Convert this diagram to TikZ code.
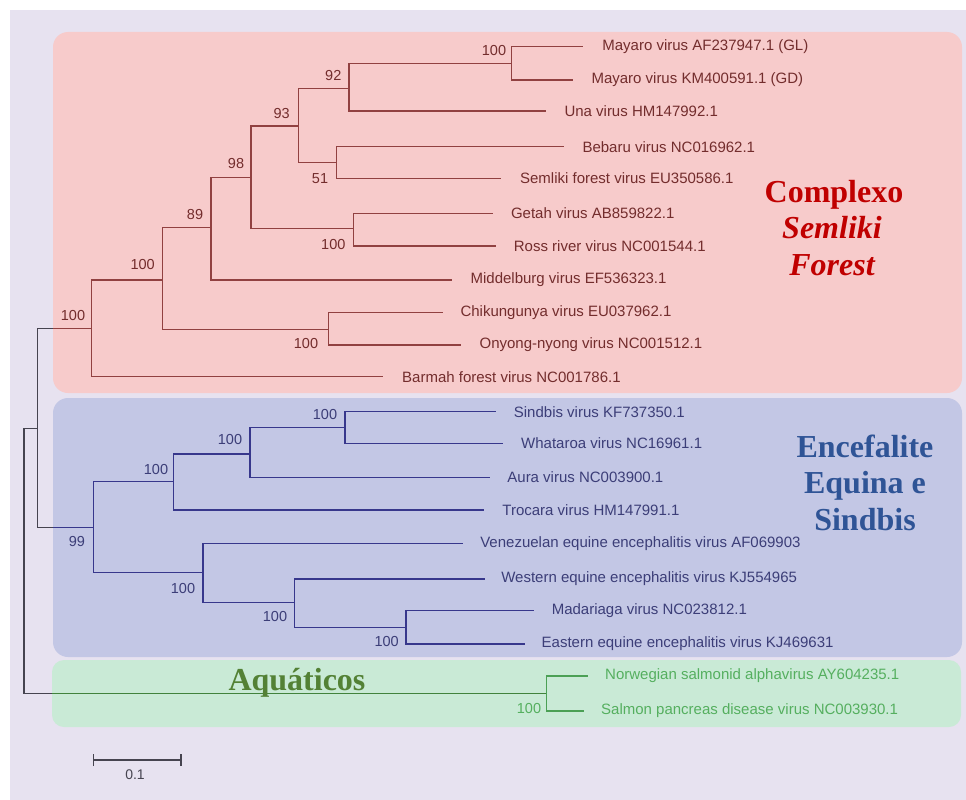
\documentclass[tikz,border=0pt]{standalone}
\usepackage{fontspec}
\setmainfont{Liberation Serif}
\setsansfont{Liberation Sans}
\definecolor{bgc}{RGB}{231,226,240}
\definecolor{redbox}{RGB}{247,203,203}
\definecolor{bluebox}{RGB}{195,199,229}
\definecolor{greenbox}{RGB}{201,234,214}
\definecolor{rootc}{RGB}{70,68,80}
\definecolor{redl}{RGB}{145,65,65}
\definecolor{redt}{RGB}{115,45,45}
\definecolor{bluel}{RGB}{55,55,140}
\definecolor{bluet}{RGB}{60,62,120}
\definecolor{greenl}{RGB}{75,160,85}
\definecolor{greenr}{RGB}{65,130,60}
\definecolor{greent}{RGB}{85,175,95}
\definecolor{bigred}{RGB}{192,0,0}
\definecolor{bigblue}{RGB}{47,84,150}
\definecolor{biggreen}{RGB}{83,129,53}
\begin{document}
\begin{tikzpicture}[x=1pt,y=-1pt,
  rl/.style={line width=1.3pt, draw=rootc},
  rb/.style={line width=1.3pt, draw=redl},
  bb/.style={line width=1.3pt, draw=bluel},
  gb/.style={line width=1.3pt, draw=greenl},
  gr/.style={line width=1.5pt, draw=greenr},
  tipfont/.style={anchor=west, inner sep=0pt, font=\sffamily\fontsize{15}{18}\selectfont},
  tipr/.style={tipfont, text=redt},
  tipb/.style={tipfont, text=bluet},
  tipg/.style={tipfont, text=greent},
  bsfont/.style={inner sep=0pt, font=\sffamily\fontsize{14.5}{17}\selectfont},
  bsr/.style={bsfont, text=redt},
  bsb/.style={bsfont, text=bluet},
  bsg/.style={bsfont, text=greent},
  big/.style={anchor=base, inner sep=0pt, font=\fontsize{32}{37}\selectfont\bfseries}
]
\useasboundingbox (0,0) rectangle (966,800);
\fill[bgc] (10,10) rectangle (966,800);
\fill[redbox, rounded corners=15pt] (53,32) rectangle (962,393);
\fill[bluebox, rounded corners=15pt] (53,398) rectangle (962,657);
\fill[greenbox, rounded corners=12pt] (52,660) rectangle (961,727);

% internal coordinates
\coordinate (r0) at (24,560);
\coordinate (n1) at (37.3,428.3);
\coordinate (rcut) at (53,328.3);
\coordinate (bcut) at (53,527.7);
\coordinate (gcut) at (52,693.3);
\coordinate (rR) at (91.7,328.3);
\coordinate (rA) at (162.3,280);
\coordinate (rB) at (328.3,329.3);
\coordinate (rC) at (211,227.7);
\coordinate (rD) at (251,177.3);
\coordinate (rE) at (353.3,228.3);
\coordinate (rF) at (298.3,126);
\coordinate (rG) at (336.7,162.3);
\coordinate (rH) at (349,88.3);
\coordinate (rI) at (511.5,63.3);
\coordinate (bR) at (93.3,527.7);
\coordinate (bA) at (173.3,481.7);
\coordinate (bB) at (250,454);
\coordinate (bC) at (345,427.3);
\coordinate (bD) at (203,572.7);
\coordinate (bE) at (294.3,602.3);
\coordinate (bF) at (406,627.3);
\coordinate (gA) at (546.2,693.3);

% tip coordinates
\coordinate (tMGL) at (583.4,46.7);
\coordinate (tMGD) at (572.6,80);
\coordinate (tUna) at (546.2,111);
\coordinate (tBeb) at (564.3,146.7);
\coordinate (tSem) at (501,178.3);
\coordinate (tGet) at (493,213.3);
\coordinate (tRos) at (495.7,246);
\coordinate (tMid) at (452.3,280);
\coordinate (tChi) at (442.6,312.3);
\coordinate (tOny) at (461.4,345);
\coordinate (tBar) at (383.3,376.7);
\coordinate (tSin) at (495.7,411.7);
\coordinate (tWha) at (502.9,443.3);
\coordinate (tAur) at (489.5,477.3);
\coordinate (tTro) at (483.8,510);
\coordinate (tVen) at (463.2,543.3);
\coordinate (tWes) at (484.8,579);
\coordinate (tMad) at (533.6,610.7);
\coordinate (tEas) at (524.5,644);
\coordinate (tNor) at (587.7,676);
\coordinate (tSal) at (584,711);

% root
\draw[rl] (r0) |- (n1);
\draw[rl] (r0) |- (gcut);
\draw[gr] (gcut) -- (gA);
\draw[rl] (n1) |- (rcut);
\draw[rb] (rcut) -- (rR);
\draw[rl] (n1) |- (bcut);
\draw[bb] (bcut) -- (bR);

% red clade
\draw[rb] (rR) |- (rA);
\draw[rb] (rR) |- (tBar);
\draw[rb] (rA) |- (rC);
\draw[rb] (rA) |- (rB);
\draw[rb] (rB) |- (tChi);
\draw[rb] (rB) |- (tOny);
\draw[rb] (rC) |- (rD);
\draw[rb] (rC) |- (tMid);
\draw[rb] (rD) |- (rF);
\draw[rb] (rD) |- (rE);
\draw[rb] (rE) |- (tGet);
\draw[rb] (rE) |- (tRos);
\draw[rb] (rF) |- (rH);
\draw[rb] (rF) |- (rG);
\draw[rb] (rG) |- (tBeb);
\draw[rb] (rG) |- (tSem);
\draw[rb] (rH) |- (rI);
\draw[rb] (rH) |- (tUna);
\draw[rb] (rI) |- (tMGL);
\draw[rb] (rI) |- (tMGD);

% blue clade
\draw[bb] (bR) |- (bA);
\draw[bb] (bR) |- (bD);
\draw[bb] (bA) |- (bB);
\draw[bb] (bA) |- (tTro);
\draw[bb] (bB) |- (bC);
\draw[bb] (bB) |- (tAur);
\draw[bb] (bC) |- (tSin);
\draw[bb] (bC) |- (tWha);
\draw[bb] (bD) |- (tVen);
\draw[bb] (bD) |- (bE);
\draw[bb] (bE) |- (tWes);
\draw[bb] (bE) |- (bF);
\draw[bb] (bF) |- (tMad);
\draw[bb] (bF) |- (tEas);

% green clade
\draw[gb] (gA) |- (tNor);
\draw[gb] (gA) |- (tSal);

% tip labels
\node[tipr] (lMGL) at (602.2,46.7) {Mayaro virus AF237947.1 (GL)};
\node[tipr] (lMGD) at (591.3,80) {Mayaro virus KM400591.1 (GD)};
\node[tipr] (lUna) at (564.3,111) {Una virus HM147992.1};
\node[tipr] (lBeb) at (582.3,146.7) {Bebaru virus NC016962.1};
\node[tipr] (lSem) at (519.9,178.3) {Semliki forest virus EU350586.1};
\node[tipr] (lGet) at (510.8,213.3) {Getah virus AB859822.1};
\node[tipr] (lRos) at (513.7,246) {Ross river virus NC001544.1};
\node[tipr] (lMid) at (470.4,280) {Middelburg virus EF536323.1};
\node[tipr] (lChi) at (460.3,312.3) {Chikungunya virus EU037962.1};
\node[tipr] (lOny) at (479.4,345) {Onyong-nyong virus NC001512.1};
\node[tipr] (lBar) at (402,376.7) {Barmah forest virus NC001786.1};
\node[tipb] (lSin) at (513.7,411.7) {Sindbis virus KF737350.1};
\node[tipb] (lWha) at (521,443.3) {Whataroa virus NC16961.1};
\node[tipb] (lAur) at (507.2,477.3) {Aura virus NC003900.1};
\node[tipb] (lTro) at (502.2,510) {Trocara virus HM147991.1};
\node[tipb] (lVen) at (480.1,543.3) {Venezuelan equine encephalitis virus AF069903};
\node[tipb] (lWes) at (501.1,579) {Western equine encephalitis virus KJ554965};
\node[tipb] (lMad) at (551.6,610.7) {Madariaga virus NC023812.1};
\node[tipb] (lEas) at (541.5,644) {Eastern equine encephalitis virus KJ469631};
\node[tipg] (lNor) at (605,676) {Norwegian salmonid alphavirus AY604235.1};
\node[tipg] (lSal) at (601,711) {Salmon pancreas disease virus NC003930.1};

% bootstrap values
\node[bsr] (sR) at (73,316) {100};
\node[bsr] (sA) at (142.7,265) {100};
\node[bsr] (sB) at (306,343.3) {100};
\node[bsr] (sC) at (195,215) {89};
\node[bsr] (sD) at (236,164) {98};
\node[bsr] (sE) at (333.3,245) {100};
\node[bsr] (sF) at (281.7,113.3) {93};
\node[bsr] (sG) at (320,178.3) {51};
\node[bsr] (sH) at (333.3,76) {92};
\node[bsr] (sI) at (494,51) {100};
\node[bsb] (tbR) at (77,542) {99};
\node[bsb] (tbA) at (156,470) {100};
\node[bsb] (tbB) at (230,440) {100};
\node[bsb] (tbC) at (325,415) {100};
\node[bsb] (tbD) at (183,589) {100};
\node[bsb] (tbE) at (275,616.7) {100};
\node[bsb] (tbF) at (386.7,641.7) {100};
\node[bsg] (tgA) at (529,708) {100};

% group names
\node[big, text=bigred] (cx1) at (834,202) {Complexo};
\node[big, text=bigred] (cx2) at (832,238) {\itshape Semliki};
\node[big, text=bigred] (cx3) at (832,275) {\itshape Forest};
\node[big, text=bigblue] (ee1) at (865,457) {Encefalite};
\node[big, text=bigblue] (ee2) at (865,493) {Equina e};
\node[big, text=bigblue] (ee3) at (865,530) {Sindbis};
\node[big, text=biggreen] (aq) at (297,690) {Aquáticos};

% scale bar
\coordinate (sbL) at (93.3,760);
\coordinate (sbR) at (181,760);
\draw[rl] (sbL) -- (sbR);
\draw[rl] ([yshift=-6pt]sbL) -- ([yshift=6pt]sbL);
\draw[rl] ([yshift=-6pt]sbR) -- ([yshift=6pt]sbR);
\node[inner sep=0pt, font=\sffamily\fontsize{14}{17}\selectfont, text=rootc] (sbt) at (135,775) {0.1};
\end{tikzpicture}
\end{document}
